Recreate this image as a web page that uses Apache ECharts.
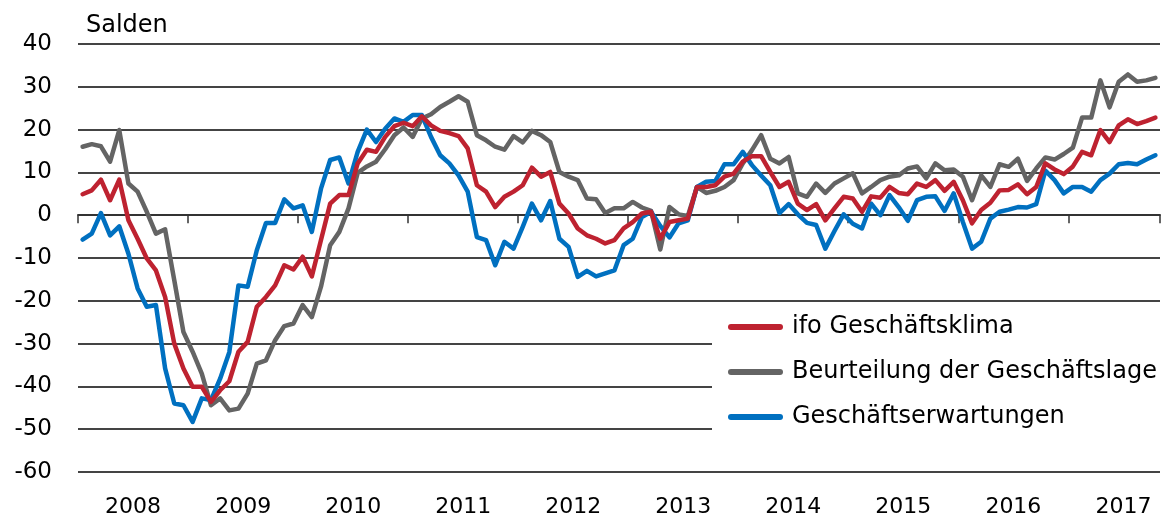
<!DOCTYPE html>
<html>
<head>
<meta charset="utf-8">
<script src="https://cdn.jsdelivr.net/npm/echarts@6/dist/echarts.min.js"></script>
<style>
html,body{margin:0;padding:0;background:#fff;}
#chart{width:1169px;height:519px;}
</style>
</head>
<body>
<div id="chart"></div>
<script>
// Monthly categories Jan 2008 – Oct 2017
const startYear = 2008;
const monthCount = 118;
const yTicks = { min: -60, max: 40, interval: 10 };
const unitLabel = 'Salden';
const seriesNames = ['ifo Geschäftsklima', 'Beurteilung der Geschäftslage', 'Geschäftserwartungen'];

const klima = [
  4.9, 5.8, 8.3, 3.5, 8.3, -1.2, -5.5, -10.1, -12.9, -19.1, -30.0, -35.8,
  -40.1, -40.1, -43.6, -40.9, -38.8, -31.9, -29.6, -21.4, -19.1, -16.4, -11.7, -12.7,
  -9.7, -14.3, -5.8, 2.7, 4.7, 4.7, 12.1, 15.3, 14.8, 18.3, 20.8, 21.6,
  20.8, 23.1, 21.0, 19.7, 19.2, 18.5, 15.6, 7.0, 5.5, 1.9, 4.3, 5.5,
  7.0, 11.1, 9.0, 10.1, 2.7, 0.4, -3.1, -4.7, -5.5, -6.6, -5.8, -3.1,
  -1.6, 0.4, 0.8, -5.5, -1.6, -1.2, -0.8, 6.6, 6.6, 7.0, 9.0, 9.7,
  12.5, 13.8, 13.8, 10.1, 6.6, 7.8, 2.7, 1.2, 2.6, -1.2, 1.6, 4.3,
  3.9, 0.8, 4.4, 4.1, 6.6, 5.2, 4.9, 7.4, 6.6, 8.2, 5.7, 7.8,
  3.5, -1.9, 1.2, 2.9, 5.8, 5.9, 7.2, 4.9, 6.6, 12.1, 10.7, 9.6,
  11.4, 14.8, 14.0, 19.9, 17.1, 21.0, 22.4, 21.3, 22.0, 22.8
];
const lage = [
  16.0, 16.6, 16.1, 12.5, 19.9, 7.4, 5.5, 0.8, -4.3, -3.3, -15.2, -27.3,
  -31.9, -37.0, -44.4, -42.8, -45.6, -45.2, -41.7, -34.7, -33.9, -29.2, -25.9, -25.3,
  -21.0, -23.8, -16.7, -7.0, -3.9, 1.6, 9.9, 11.4, 12.5, 15.4, 18.7, 20.5,
  18.3, 22.6, 23.6, 25.3, 26.5, 27.8, 26.5, 18.7, 17.5, 16.0, 15.3, 18.5,
  17.0, 19.7, 18.7, 17.1, 10.1, 9.0, 8.2, 3.9, 3.7, 0.5, 1.6, 1.6,
  3.1, 1.8, 1.0, -8.0, 1.9, 0.2, -0.2, 6.6, 5.2, 5.7, 6.6, 8.2,
  12.1, 15.2, 18.7, 13.2, 12.1, 13.6, 5.1, 4.3, 7.4, 5.2, 7.4, 8.6,
  9.8, 5.1, 6.6, 8.2, 9.0, 9.3, 10.9, 11.4, 8.6, 12.1, 10.5, 10.7,
  9.0, 3.5, 9.3, 6.6, 11.9, 11.3, 13.2, 8.0, 10.9, 13.5, 13.0, 14.3,
  15.8, 22.8, 22.8, 31.5, 25.2, 31.2, 32.9, 31.2, 31.5, 32.1
];
const erwartungen = [
  -5.7, -4.3, 0.5, -4.7, -2.6, -9.0, -17.1, -21.4, -21.0, -35.8, -44.0, -44.4,
  -48.3, -42.8, -43.2, -38.2, -32.0, -16.4, -16.7, -8.2, -1.8, -1.8, 3.7, 1.6,
  2.3, -3.9, 6.2, 12.9, 13.5, 7.4, 14.8, 20.0, 17.1, 20.2, 22.6, 21.8,
  23.4, 23.4, 18.3, 14.0, 12.1, 9.3, 5.5, -5.1, -5.8, -11.7, -6.2, -7.8,
  -2.7, 2.7, -1.2, 3.3, -5.5, -7.4, -14.4, -13.0, -14.3, -13.6, -12.9, -7.0,
  -5.5, -0.4, 0.8, -2.5, -5.2, -1.9, -1.2, 6.6, 7.8, 8.0, 11.9, 11.9,
  14.8, 11.7, 9.3, 7.0, 0.5, 2.6, 0.2, -1.8, -2.3, -7.8, -3.7, 0.2,
  -2.0, -3.1, 2.7, 0.0, 4.7, 1.9, -1.3, 3.5, 4.3, 4.4, 1.0, 5.1,
  -1.6, -7.8, -6.2, -0.8, 0.8, 1.3, 1.9, 1.8, 2.6, 10.4, 8.2, 5.1,
  6.6, 6.6, 5.5, 8.2, 9.7, 11.9, 12.2, 11.9, 13.0, 14.0
];

const months = [];
for (let i = 0; i < monthCount; i++) {
  const y = startYear + Math.floor(i / 12);
  const m = (i % 12) + 1;
  months.push(y + '-' + (m < 10 ? '0' + m : m));
}

const FONT = 'DejaVu Sans';
const chart = echarts.init(document.getElementById('chart'), null, { renderer: 'canvas' });
const lineIcon = 'path://M3,0 L52,0 A3,3 0 0 1 52,6 L3,6 A3,3 0 0 1 3,0 Z';

chart.setOption({
  animation: false,
  backgroundColor: '#ffffff',
  textStyle: { fontFamily: FONT, color: '#000' },
  grid: { left: 78, right: 9, top: 44, bottom: 47, containLabel: false },
  graphic: [{
    type: 'text', left: 86, top: 14,
    style: { text: unitLabel, fontFamily: FONT, fontSize: 24, fill: '#000' }
  }],
  legend: {
    data: seriesNames,
    orient: 'vertical',
    left: 712, top: 305,
    padding: [10, 5, 10, 16],
    backgroundColor: '#ffffff',
    itemWidth: 55, itemHeight: 6, itemGap: 21,
    icon: lineIcon,
    textStyle: { fontFamily: FONT, fontSize: 24, color: '#000', lineHeight: 24, padding: [0, 0, 0, 4] },
    selectedMode: false
  },
  xAxis: [{
    type: 'category', data: months, boundaryGap: true,
    axisLine: { show: true, onZero: true, lineStyle: { color: '#333', width: 2 } },
    axisTick: { show: true, length: 8, interval: (i) => i % 12 === 0, lineStyle: { color: '#333', width: 1.5 } },
    axisLabel: { show: false },
    splitLine: { show: false }
  }, {
    type: 'category', data: months, boundaryGap: true, position: 'bottom',
    axisLine: { show: false, onZero: false },
    axisTick: { show: false },
    axisLabel: {
      show: true, interval: (i) => i % 12 === 6,
      formatter: (v) => v.slice(0, 4),
      fontFamily: FONT, fontSize: 22, color: '#000', margin: 24,
      padding: [0, 9, 0, 0]
    },
    splitLine: { show: false }
  }],
  yAxis: {
    type: 'value', min: yTicks.min, max: yTicks.max, interval: yTicks.interval,
    axisLine: { show: false }, axisTick: { show: false },
    axisLabel: { fontFamily: FONT, fontSize: 23, color: '#000', margin: 26 },
    splitLine: { show: true, lineStyle: { color: '#444', width: 2 } }
  },
  series: [{
    name: seriesNames[1], type: 'line', data: lage, xAxisIndex: 0,
    showSymbol: false, symbol: 'none', z: 2,
    lineStyle: { color: '#646464', width: 4.5, join: 'round', cap: 'round' },
    itemStyle: { color: '#646464' }
  }, {
    name: seriesNames[2], type: 'line', data: erwartungen, xAxisIndex: 0,
    showSymbol: false, symbol: 'none', z: 3,
    lineStyle: { color: '#0070C0', width: 4.5, join: 'round', cap: 'round' },
    itemStyle: { color: '#0070C0' }
  }, {
    name: seriesNames[0], type: 'line', data: klima, xAxisIndex: 0,
    showSymbol: false, symbol: 'none', z: 4,
    lineStyle: { color: '#BE2230', width: 4.5, join: 'round', cap: 'round' },
    itemStyle: { color: '#BE2230' }
  }]
});
</script>
</body>
</html>
